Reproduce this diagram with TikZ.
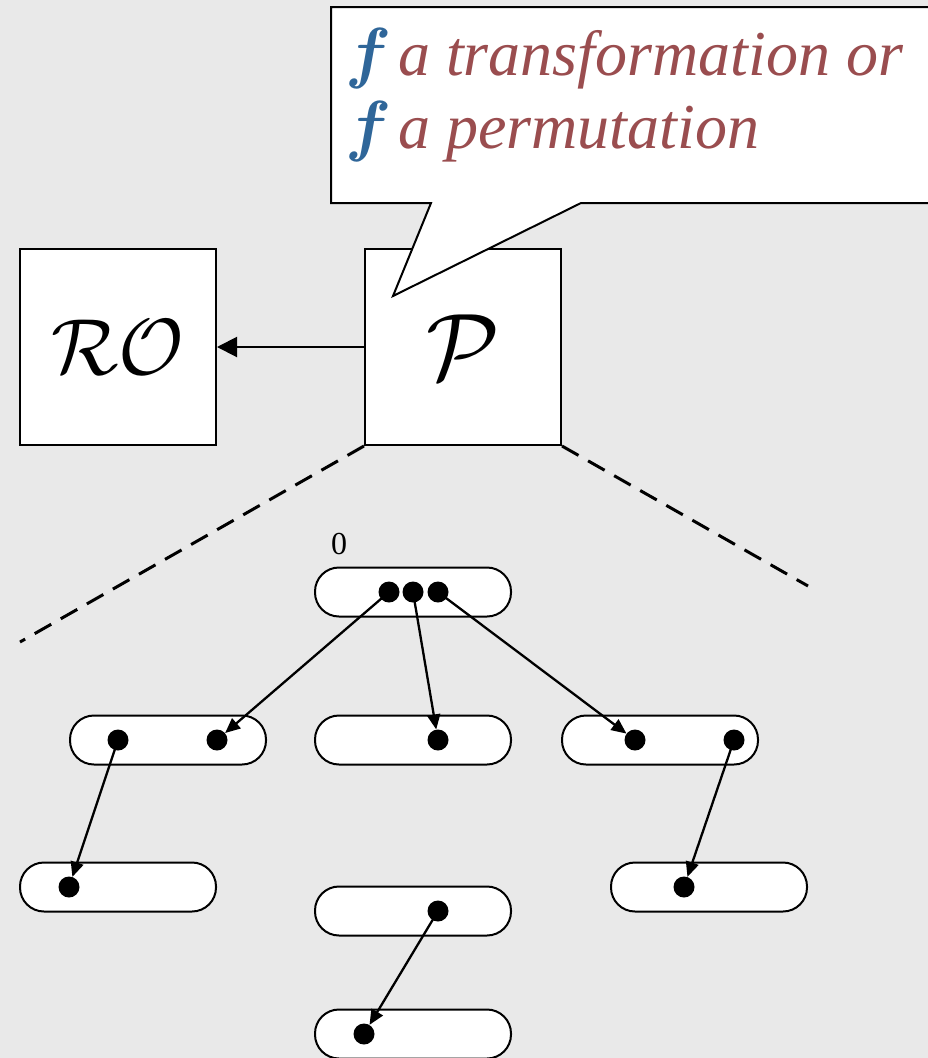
\documentclass[tikz,border=0pt]{standalone}
\usepackage{graphicx}
\usepackage{bm}
\usepackage{fontspec}
\setmainfont{Liberation Serif}
\usetikzlibrary{arrows.meta}
\definecolor{bgcol}{HTML}{E9E9E9}
\definecolor{fblue}{HTML}{2F6699}
\definecolor{tred}{HTML}{9A4D4F}
\tikzset{
  x=1pt, y=-1pt,
  bigbox/.style={draw=black, fill=white, line width=2pt, minimum width=196pt, minimum height=196pt, inner sep=0pt},
  pill/.style={draw=black, fill=white, line width=2pt, minimum width=196pt, minimum height=49pt, rounded corners=24pt, inner sep=0pt},
  dotn/.style={circle, fill=black, minimum size=21pt, inner sep=0pt},
  treearrow/.style={line width=2.3pt, -{Triangle[length=15pt,width=13pt]}},
  linkarrow/.style={line width=2pt, -{Triangle[length=20pt,width=20pt]}},
  zoomline/.style={line width=3pt, dash pattern=on 19pt off 11pt},
  calltext/.style={anchor=base west, inner sep=0pt, font=\fontsize{64}{64}\selectfont\itshape, text=tred},
  callf/.style={anchor=base west, inner sep=0pt, text=fblue},
}
\newcommand{\bluef}{\scalebox{2.73}{\Huge$\bm{f}$}}
\begin{document}
\begin{tikzpicture}
\fill[bgcol] (0,0) rectangle (928,1058);
\useasboundingbox (0,0) rectangle (928,1058);
\clip (0,0) rectangle (928,1058);

% big boxes
\node[bigbox] (RO) at (118,347) {\scalebox{3.2}{\Huge$\mathcal{RO}$}};
\node[bigbox] (P) at (463,347) {\scalebox{3.8}{\Huge$\mathcal{P}$}};
\draw[linkarrow] (P.west) -- (RO.east);

% zoom lines
\coordinate (zl) at (20,642);
\coordinate (zr) at (808,586);
\draw[zoomline] (P.south west) -- (zl);
\draw[zoomline] (P.south east) -- (zr);

% callout
\coordinate (cTL) at (331,7);
\coordinate (cTR) at (945,7);
\coordinate (cBR) at (945,203);
\coordinate (cB1) at (581,203);
\coordinate (cTip) at (393,296);
\coordinate (cB2) at (431,203);
\coordinate (cBL) at (331,203);
\draw[line width=2pt, fill=white, line join=miter] (cTL) -- (cTR) -- (cBR) -- (cB1) -- (cTip) -- (cB2) -- (cBL) -- cycle;
\node[callf] (f1) at (345,75) {\bluef};
\node[calltext] (t1) at (398,75) {a transformation or};
\node[callf] (f2) at (345,148) {\bluef};
\node[calltext] (t2) at (398,148) {a permutation};

% tree pills
\node[pill] (r0) at (413,592) {};
\node[anchor=base, inner sep=0pt, font=\fontsize{32}{32}\selectfont] (lab0) at (339,554) {0};
\node[pill] (a1) at (168,740) {};
\node[pill] (a2) at (413,740) {};
\node[pill] (a3) at (660,740) {};
\node[pill] (b1) at (118,887) {};
\node[pill] (b2) at (413,911) {};
\node[pill] (b3) at (709,887) {};
\node[pill] (c2) at (413,1034) {};

% dots
\node[dotn] (r0d1) at (389,592) {};
\node[dotn] (r0d2) at (413,592) {};
\node[dotn] (r0d3) at (438,592) {};
\node[dotn] (a1d1) at (118,740) {};
\node[dotn] (a1d2) at (217,740) {};
\node[dotn] (a2d1) at (438,740) {};
\node[dotn] (a3d1) at (635,740) {};
\node[dotn] (a3d2) at (734,740) {};
\node[dotn] (b1d1) at (69,887) {};
\node[dotn] (b2d1) at (438,911) {};
\node[dotn] (b3d1) at (684,887) {};
\node[dotn] (c2d1) at (364,1034) {};

% arrows
\draw[treearrow] (r0d1.center) -- (a1d2);
\draw[treearrow] (r0d2.center) -- (a2d1);
\draw[treearrow] (r0d3.center) -- (a3d1);
\draw[treearrow] (a1d1.center) -- (b1d1);
\draw[treearrow] (a3d2.center) -- (b3d1);
\draw[treearrow] (b2d1.center) -- (c2d1);
\end{tikzpicture}
\end{document}
